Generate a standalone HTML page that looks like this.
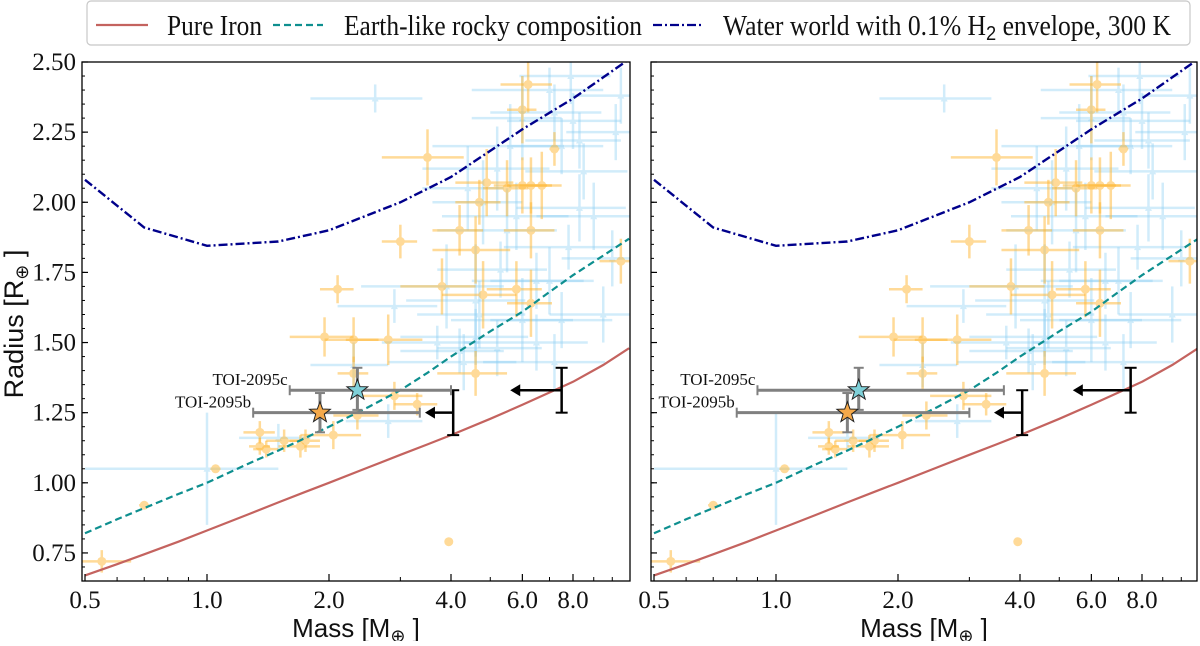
<!DOCTYPE html>
<html><head><meta charset="utf-8">
<style>
html,body{margin:0;padding:0;background:#fff;}
body{width:1200px;height:641px;overflow:hidden;}
svg text{font-family:"Liberation Serif",serif;}
</style></head>
<body>
<svg id="chart" width="1200" height="641" viewBox="0 0 1200 641" xmlns="http://www.w3.org/2000/svg">
<g id="legend">
 <rect x="87" y="1" width="1103" height="44" rx="4" fill="#fff" stroke="#c8c8c8" stroke-width="1.2"/>
 <line x1="96" y1="25" x2="148" y2="25" stroke="#c4635f" stroke-width="2.2"/>
 <text x="167" y="35" font-size="28" fill="#111" textLength="95" lengthAdjust="spacingAndGlyphs">Pure Iron</text>
 <line x1="273" y1="25" x2="323" y2="25" stroke="#0e8f8f" stroke-width="2.2" stroke-dasharray="7,4"/>
 <text x="344" y="35" font-size="28" fill="#111" textLength="298" lengthAdjust="spacingAndGlyphs">Earth-like rocky composition</text>
 <line x1="653" y1="25" x2="703" y2="25" stroke="#00008b" stroke-width="2.2" stroke-dasharray="9,3,2,3"/>
 <text x="723" y="35" font-size="28" fill="#111" textLength="448" lengthAdjust="spacingAndGlyphs">Water world with 0.1% H<tspan font-family="Liberation Sans" font-size="20" dy="5">2</tspan><tspan dy="-5"> envelope, 300 K</tspan></text>
</g>
</svg>
<script>
// model curves
const curveMass = [0.5,0.6,0.7,0.85,1.0,1.25,1.5,1.75,2.0,2.5,3.0,3.5,4.0,5.0,6.0,7.0,8.0,9.5,11.0];
const ironR  = [0.67,0.71,0.745,0.79,0.83,0.885,0.93,0.968,1.0,1.055,1.10,1.137,1.17,1.228,1.278,1.322,1.36,1.42,1.48];
const earthR = [0.82,0.87,0.91,0.96,1.0,1.065,1.115,1.16,1.20,1.27,1.33,1.392,1.45,1.54,1.61,1.68,1.74,1.81,1.87];
const waterMass = [0.5,0.7,1.0,1.5,2.0,3.0,4.0,6.0,8.0,11.0];
const waterR = [2.08,1.91,1.845,1.86,1.90,2.0,2.09,2.26,2.37,2.51];
// literature planets (orange: precise, blue: others)
const orM = [0.55,0.7,1.05,1.35,1.35,1.4,1.55,1.7,1.75,1.95,2.1,2.3,2.3,2.05,2.35,2.8,2.9,3.3,3.0,3.5,3.95,3.8,4.2,4.6,4.7,4.8,4.6,4.9,5.5,5.8,6.0,6.3,6.2,6.0,6.3,6.3,7.2,6.7,10.5];
const orR = [0.72,0.92,1.05,1.18,1.13,1.12,1.15,1.13,1.15,1.52,1.69,1.51,1.39,1.17,1.24,1.51,1.31,1.28,1.86,2.16,0.79,1.70,1.90,1.83,2.00,1.67,1.39,2.07,2.05,1.69,2.06,2.06,2.42,2.33,1.90,1.64,2.19,2.06,1.79];
const orMerr = [0.1,0.02,0.03,0.12,0.08,0.1,0.15,0.2,0.15,0.35,0.2,0.35,0.2,0.35,0.3,0.6,0.5,0.4,0.3,0.8,0.02,0.8,0.6,1.0,0.6,1.0,0.9,0.8,0.7,0.9,0.9,0.8,0.9,0.5,0.9,0.8,0.2,0.8,1.2];
const orRerr = [0.04,0.01,0.01,0.04,0.03,0.03,0.04,0.04,0.04,0.07,0.05,0.08,0.06,0.05,0.05,0.09,0.05,0.04,0.06,0.1,0.01,0.1,0.09,0.12,0.08,0.12,0.08,0.12,0.1,0.1,0.1,0.1,0.1,0.12,0.1,0.12,0.06,0.12,0.08];
const blM = [1.0,1.5,2.3,2.6,2.8,2.9,3.7,3.9,4.2,4.3,4.4,4.6,4.8,4.6,4.7,5.2,5.3,5.5,5.6,6.0,6.0,6.5,6.5,7.0,7.0,7.2,7.5,7.5,7.8,7.9,8.0,8.3,8.3,8.5,9.0,9.5,10.0,10.2,10.5,5.2,7.2,5.8];
const blR = [1.05,1.16,1.42,2.37,1.22,1.63,1.50,1.70,1.47,1.43,2.05,1.52,2.00,1.65,1.60,1.48,1.76,1.90,2.20,1.58,2.30,1.50,1.72,2.40,1.72,2.32,1.58,2.20,1.84,2.45,2.29,2.22,1.98,2.11,1.95,1.60,1.80,2.25,2.38,2.12,1.43,1.95];
const blMerr = [0.5,0.3,0.5,0.8,0.6,0.8,1.0,1.5,1.2,1.5,1.0,1.6,1.2,1.5,1.4,1.5,1.6,1.8,2.0,2.0,1.5,2.2,2.0,2.5,2.0,2.2,2.5,2.0,2.4,2.0,2.5,2.2,2.5,2.4,2.5,2.5,2.5,2.5,2.5,1.8,2.4,2.0];
const blRerr = [0.2,0.05,0.08,0.05,0.06,0.06,0.06,0.15,0.08,0.1,0.15,0.1,0.15,0.2,0.12,0.1,0.1,0.15,0.15,0.15,0.15,0.1,0.1,0.08,0.12,0.1,0.1,0.1,0.08,0.1,0.1,0.1,0.12,0.1,0.12,0.1,0.1,0.1,0.1,0.15,0.1,0.12];
// TOI-2095 planets per panel
const toiName = ["TOI-2095b","TOI-2095c"];
const toiM_left = [1.9,2.35];
const toiMlo_left = [1.3,1.6];
const toiMhi_left = [3.35,4.0];
const toiM_right = [1.5,1.6];
const toiMlo_right = [0.8,0.9];
const toiMhi_right = [3.0,3.65];
const toiR = [1.25,1.33];
const toiRlo = [1.18,1.26];
const toiRhi = [1.32,1.41];
// upper limits
const limM = [4.05,7.5];
const limArrowTo_left = [3.45,5.6];
const limArrowTo_right = [3.45,5.4];
const limR = [1.25,1.33];
const limRlo = [1.17,1.25];
const limRhi = [1.33,1.41];
const yTicks = [0.75,1.0,1.25,1.5,1.75,2.0,2.25,2.5];
const yTickLabels = ["0.75","1.00","1.25","1.50","1.75","2.00","2.25","2.50"];
const xTicks = [0.5,1.0,2.0,4.0,6.0,8.0];
const xTickLabels = ["0.5","1.0","2.0","4.0","6.0","8.0"];
const xMinor = [0.6,0.7,0.8,0.9,3.0,5.0,7.0,9.0,10.0];

const NS="http://www.w3.org/2000/svg";
const svg=document.getElementById('chart');
function mk(tag,attrs,parent){const e=document.createElementNS(NS,tag);for(const k in attrs)e.setAttribute(k,attrs[k]);(parent||svg).appendChild(e);return e;}
const T=62,B=581,YMIN=0.65,YMAX=2.5;
function yS(r){return B-(r-YMIN)/(YMAX-YMIN)*(B-T);}

function panel(idx,L,R,toiM,toiMlo,toiMhi,arrowTo){
  const x0=L+3;
  function xS(m){return x0+Math.log2(m/0.5)*122;}
  const g=mk('g',{});
  
  
  const cid='clip'+idx;
  const cp=mk('clipPath',{id:cid},g);mk('rect',{x:L,y:T,width:R-L,height:B-T},cp);
  const plot=mk('g',{'clip-path':'url(#'+cid+')'},g);
  for(let i=0;i<blM.length;i++){
    const pg=mk('g',{opacity:0.4},plot);
    
    
    const cx=xS(blM[i]),cy=yS(blR[i]);
    mk('line',{x1:xS(Math.max(0.3,blM[i]-blMerr[i])),x2:xS(blM[i]+blMerr[i]),y1:cy,y2:cy,stroke:'#8fd0f5','stroke-width':2.5},pg);
    mk('line',{x1:cx,x2:cx,y1:yS(blR[i]-blRerr[i]),y2:yS(blR[i]+blRerr[i]),stroke:'#8fd0f5','stroke-width':2.5},pg);
    mk('path',{d:`M${cx},${cy-4}L${cx+3.5},${cy+3}L${cx-3.5},${cy+3}Z`,fill:'#8fd0f5'},pg);
  }
  for(let i=0;i<orM.length;i++){
    const pg=mk('g',{opacity:0.5},plot);
    
    
    const cx=xS(orM[i]),cy=yS(orR[i]);
    mk('line',{x1:xS(orM[i]-orMerr[i]),x2:xS(orM[i]+orMerr[i]),y1:cy,y2:cy,stroke:'#ffb733','stroke-width':2.5},pg);
    mk('line',{x1:cx,x2:cx,y1:yS(orR[i]-orRerr[i]),y2:yS(orR[i]+orRerr[i]),stroke:'#ffb733','stroke-width':2.5},pg);
    mk('circle',{cx:cx,cy:cy,r:4.5,fill:'#ffb733'},pg);
  }
  function poly(ms,rs,attrs,name){
    const d=ms.map((m,i)=>(i?'L':'M')+xS(m).toFixed(1)+','+yS(rs[i]).toFixed(1)).join('');
    const p=mk('path',Object.assign({d:d,fill:'none'},attrs),plot);
    
    
  }
  poly(curveMass,ironR,{stroke:'#c4635f','stroke-width':2.2},'pure-iron-curve');
  poly(curveMass,earthR,{stroke:'#0e8f8f','stroke-width':2.2,'stroke-dasharray':'7,4'},'earth-like-curve');
  poly(waterMass,waterR,{stroke:'#00008b','stroke-width':2.4,'stroke-dasharray':'9,3,2,3'},'water-world-curve');
  for(let i=0;i<limM.length;i++){
    const lg=mk('g',{},plot);
    
    
    const x=xS(limM[i]),y=yS(limR[i]),xa=xS(arrowTo[i]);
    mk('line',{x1:x,x2:x,y1:yS(limRlo[i]),y2:yS(limRhi[i]),stroke:'#000','stroke-width':2.5},lg);
    mk('line',{x1:x-6,x2:x+6,y1:yS(limRlo[i]),y2:yS(limRlo[i]),stroke:'#000','stroke-width':2},lg);
    mk('line',{x1:x-6,x2:x+6,y1:yS(limRhi[i]),y2:yS(limRhi[i]),stroke:'#000','stroke-width':2},lg);
    mk('line',{x1:x,x2:xa+8,y1:y,y2:y,stroke:'#000','stroke-width':2.5},lg);
    mk('path',{d:`M${xa},${y}L${xa+10},${y-6}L${xa+10},${y+6}Z`,fill:'#000'},lg);
  }
  const colors=['#f5a94a','#7fd0d8'];
  for(let i=1;i>=0;i--){
    const tg=mk('g',{},plot);
    
    
    const cx=xS(toiM[i]),cy=yS(toiR[i]);
    const lo=xS(toiMlo[i]),hi=xS(toiMhi[i]);
    mk('line',{x1:lo,x2:hi,y1:cy,y2:cy,stroke:'#808080','stroke-width':3},tg);
    mk('line',{x1:lo,x2:lo,y1:cy-5,y2:cy+5,stroke:'#808080','stroke-width':2},tg);
    mk('line',{x1:hi,x2:hi,y1:cy-5,y2:cy+5,stroke:'#808080','stroke-width':2},tg);
    mk('line',{x1:cx,x2:cx,y1:yS(toiRlo[i]),y2:yS(toiRhi[i]),stroke:'#808080','stroke-width':3},tg);
    mk('line',{x1:cx-5,x2:cx+5,y1:yS(toiRlo[i]),y2:yS(toiRlo[i]),stroke:'#808080','stroke-width':2},tg);
    mk('line',{x1:cx-5,x2:cx+5,y1:yS(toiRhi[i]),y2:yS(toiRhi[i]),stroke:'#808080','stroke-width':2},tg);
    let d='';for(let k=0;k<10;k++){const a=-Math.PI/2+k*Math.PI/5;const rr=k%2?4.5:11;d+=(k?'L':'M')+(cx+rr*Math.cos(a)).toFixed(1)+','+(cy+rr*Math.sin(a)).toFixed(1);}
    mk('path',{d:d+'Z',fill:colors[i],stroke:'#222','stroke-width':1},tg);
    const t=mk('text',{x:lo-2,y:cy-5,'font-size':17,'text-anchor':'end',fill:'#111'},g);
    t.textContent=toiName[i];
    
    
  }
  mk('rect',{x:L,y:T,width:R-L,height:B-T,fill:'none',stroke:'#000','stroke-width':1.3},g);
  for(let v=0.7;v<=2.5001;v+=0.05){const y=yS(v);mk('line',{x1:L,x2:L+3,y1:y,y2:y,stroke:'#000','stroke-width':1},g);}
  yTicks.forEach((v,i)=>{const y=yS(v);mk('line',{x1:L,x2:L+6,y1:y,y2:y,stroke:'#000','stroke-width':1.2},g);
    if(idx===0){const t=mk('text',{x:L-6,y:y+8,'font-size':25,'text-anchor':'end',fill:'#111'},g);t.textContent=yTickLabels[i];
    }});
  xMinor.forEach(m=>{const x=xS(m);if(x<R)mk('line',{x1:x,x2:x,y1:B,y2:B-4,stroke:'#000','stroke-width':1},g);});
  xTicks.forEach((m,i)=>{const x=xS(m);mk('line',{x1:x,x2:x,y1:B,y2:B-7,stroke:'#000','stroke-width':1.2},g);
    const t=mk('text',{x:x,y:B+27,'font-size':25,'text-anchor':'middle',fill:'#111'},g);t.textContent=xTickLabels[i];
    });
  const xl=mk('text',{x:(L+R)/2,y:B+56,'font-size':26,'text-anchor':'middle',fill:'#111'},g);
  xl.style.fontFamily='"Liberation Sans",sans-serif';
  xl.innerHTML='Mass [M<tspan font-size="18" dy="5">⊕</tspan><tspan dy="-5"> ]</tspan>';
  
}
panel(0,82,630,toiM_left,toiMlo_left,toiMhi_left,limArrowTo_left);
panel(1,651,1197,toiM_right,toiMlo_right,toiMhi_right,limArrowTo_right);
const yl=mk('text',{x:0,y:0,'font-size':27,'text-anchor':'middle',fill:'#111',transform:'translate(23,324) rotate(-90)'});
yl.style.fontFamily='"Liberation Sans",sans-serif';
yl.innerHTML='Radius [R<tspan font-size="18" dy="5">⊕</tspan><tspan dy="-5"> ]</tspan>';


</script>
</body></html>
